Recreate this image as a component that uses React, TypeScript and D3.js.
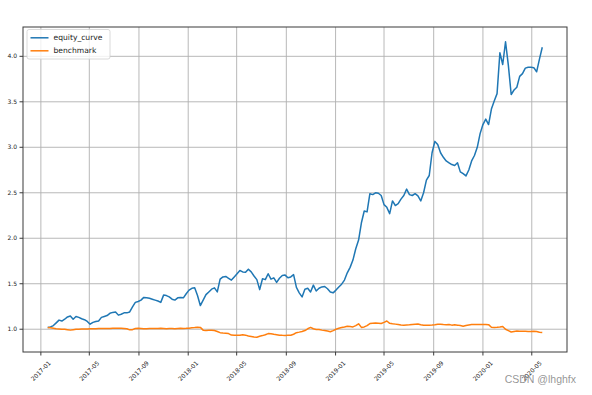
import * as React from 'react';
import * as d3 from 'd3';

// weekly closes, first week 2017-01-18
const startDate = new Date(2017, 0, 18);

const equityCurve = [
  1.02, 1.025, 1.04, 1.07, 1.10, 1.09, 1.11, 1.135, 1.145, 1.11,
  1.14, 1.13, 1.115, 1.105, 1.085, 1.055, 1.075, 1.085, 1.09, 1.13,
  1.14, 1.15, 1.175, 1.185, 1.19, 1.155, 1.165, 1.18, 1.18, 1.19,
  1.245, 1.295, 1.305, 1.32, 1.35, 1.345, 1.34, 1.33, 1.32, 1.31,
  1.295, 1.375, 1.37, 1.355, 1.33, 1.32, 1.345, 1.35, 1.345, 1.39,
  1.43, 1.45, 1.455, 1.37, 1.26, 1.32, 1.38, 1.41, 1.44, 1.455,
  1.41, 1.55, 1.575, 1.58, 1.56, 1.54, 1.575, 1.61, 1.645, 1.63,
  1.625, 1.66, 1.63, 1.585, 1.545, 1.435, 1.555, 1.545, 1.61, 1.55,
  1.565, 1.515, 1.56, 1.59, 1.595, 1.565, 1.575, 1.60, 1.46, 1.40,
  1.355, 1.44, 1.45, 1.41, 1.485, 1.42, 1.45, 1.465, 1.47, 1.445,
  1.41, 1.40, 1.43, 1.465, 1.495, 1.54, 1.62, 1.68, 1.76, 1.885,
  1.98, 2.17, 2.30, 2.29, 2.49, 2.48, 2.50, 2.495, 2.47, 2.37,
  2.34, 2.27, 2.41, 2.36, 2.38, 2.43, 2.47, 2.54, 2.48, 2.47,
  2.49, 2.465, 2.41, 2.50, 2.64, 2.69, 2.94, 3.065, 3.03, 2.94,
  2.89, 2.85, 2.83, 2.81, 2.80, 2.83, 2.73, 2.71, 2.685, 2.75,
  2.85, 2.91, 3.00, 3.15, 3.25, 3.31, 3.25, 3.42, 3.51, 3.59,
  4.04, 3.91, 4.16, 3.90, 3.58, 3.63, 3.66, 3.78, 3.81, 3.87,
  3.88, 3.88, 3.875, 3.83, 3.97, 4.10,
];

const benchmark = [
  1.02, 1.015, 1.01, 1.005, 1.003, 1.0, 1.0, 0.995, 0.99, 0.995,
  1.0, 1.0, 1.002, 1.003, 1.003, 1.004, 1.005, 1.006, 1.007, 1.007,
  1.008, 1.008, 1.009, 1.01, 1.01, 1.01, 1.01, 1.008, 1.005, 0.993,
  0.995, 1.008, 1.01, 1.008, 1.005, 1.006, 1.007, 1.008, 1.008, 1.007,
  1.01, 1.008, 1.006, 1.008, 1.007, 1.006, 1.008, 1.01, 1.009, 1.01,
  1.012, 1.015, 1.018, 1.022, 1.02, 0.99, 0.986, 0.988, 0.99, 0.986,
  0.975, 0.962, 0.958, 0.955, 0.952, 0.936, 0.934, 0.934, 0.934, 0.94,
  0.935, 0.925, 0.92, 0.914, 0.912, 0.922, 0.93, 0.94, 0.952, 0.95,
  0.944, 0.94, 0.935, 0.933, 0.932, 0.933, 0.934, 0.945, 0.962, 0.968,
  0.975, 0.985, 1.005, 1.02, 1.005, 0.997, 0.997, 0.99, 0.985, 0.98,
  0.973, 0.985, 1.0, 1.01, 1.018, 1.025, 1.033, 1.03, 1.025, 1.04,
  1.06, 1.02, 1.025, 1.04, 1.062, 1.065, 1.068, 1.066, 1.063, 1.075,
  1.09, 1.065, 1.06, 1.056, 1.052, 1.046, 1.044, 1.046, 1.048, 1.052,
  1.055, 1.058, 1.05, 1.044, 1.045, 1.045, 1.046, 1.05, 1.055, 1.055,
  1.052, 1.05, 1.052, 1.045, 1.048, 1.045, 1.04, 1.033, 1.04, 1.047,
  1.052, 1.052, 1.052, 1.052, 1.052, 1.052, 1.05, 1.022, 1.02, 1.022,
  1.025, 1.03, 1.0, 0.985, 0.97, 0.975, 0.98, 0.978, 0.978, 0.978,
  0.976, 0.976, 0.977, 0.976, 0.967, 0.964,
];

const yTicks = [1.0, 1.5, 2.0, 2.5, 3.0, 3.5, 4.0];
const xTickLabels = [
  '2017-01', '2017-05', '2017-09', '2018-01', '2018-05', '2018-09',
  '2019-01', '2019-05', '2019-09', '2020-01', '2020-05',
];

const dates = equityCurve.map((_, i) => d3.timeDay.offset(startDate, i * 7));

const W = 592;
const H = 395;
const margin = { left: 23, right: 25, top: 27, bottom: 43 };
const FONT = 'DejaVu Sans, sans-serif';

export default function App() {
  const ref = React.useRef<SVGSVGElement>(null);

  React.useEffect(() => {
    const svg = d3.select(ref.current);
    svg.selectAll('*').remove();

    const x0 = dates[0].getTime();
    const x1 = dates[dates.length - 1].getTime();
    const padX = (x1 - x0) * 0.05;
    const x = d3.scaleTime()
      .domain([new Date(x0 - padX), new Date(x1 + padX)])
      .range([margin.left, W - margin.right]);

    const allVals = equityCurve.concat(benchmark);
    const lo = d3.min(allVals) as number;
    const hi = d3.max(allVals) as number;
    const padY = (hi - lo) * 0.05;
    const y = d3.scaleLinear()
      .domain([lo - padY, hi + padY])
      .range([H - margin.bottom, margin.top]);

    const parse = d3.timeParse('%Y-%m');
    const xTicks = xTickLabels.map(s => parse(s) as Date);

    // grid
    const grid = svg.append('g');
    grid.selectAll('.vgrid')
      .data(xTicks)
      .enter()
      .append('line')
      .attr('x1', d => x(d)).attr('x2', d => x(d))
      .attr('y1', margin.top).attr('y2', H - margin.bottom)
      .attr('stroke', '#b0b0b0').attr('stroke-width', 0.9);
    grid.selectAll('.hgrid')
      .data(yTicks)
      .enter()
      .append('line')
      .attr('x1', margin.left).attr('x2', W - margin.right)
      .attr('y1', d => y(d)).attr('y2', d => y(d))
      .attr('stroke', '#b0b0b0').attr('stroke-width', 0.9);

    // lines
    const line = d3.line<number>()
      .x((_, i) => x(dates[i]))
      .y(d => y(d));

    svg.append('path')
      .datum(equityCurve)
      .attr('d', line)
      .attr('fill', 'none')
      .attr('stroke', '#1f77b4')
      .attr('stroke-width', 1.5)
      .attr('stroke-linejoin', 'round');

    svg.append('path')
      .datum(benchmark)
      .attr('d', line)
      .attr('fill', 'none')
      .attr('stroke', '#ff7f0e')
      .attr('stroke-width', 1.5)
      .attr('stroke-linejoin', 'round');

    // frame
    svg.append('rect')
      .attr('x', margin.left)
      .attr('y', margin.top)
      .attr('width', W - margin.left - margin.right)
      .attr('height', H - margin.top - margin.bottom)
      .attr('fill', 'none')
      .attr('stroke', '#3a3a3a')
      .attr('stroke-width', 1);

    // y axis
    const yAxis = svg.append('g');
    yAxis.selectAll('line')
      .data(yTicks)
      .enter()
      .append('line')
      .attr('x1', margin.left - 3.5).attr('x2', margin.left)
      .attr('y1', d => y(d)).attr('y2', d => y(d))
      .attr('stroke', '#3a3a3a');
    yAxis.selectAll('text')
      .data(yTicks)
      .enter()
      .append('text')
      .attr('x', margin.left - 6)
      .attr('y', d => y(d))
      .attr('dy', '0.35em')
      .attr('text-anchor', 'end')
      .attr('font-size', 6)
      .attr('font-family', FONT)
      .attr('fill', '#222')
      .text(d => d.toFixed(1));

    // x axis
    const base = H - margin.bottom;
    const xAxis = svg.append('g');
    xAxis.selectAll('line')
      .data(xTicks)
      .enter()
      .append('line')
      .attr('x1', d => x(d)).attr('x2', d => x(d))
      .attr('y1', base).attr('y2', base + 3.5)
      .attr('stroke', '#3a3a3a');
    xAxis.selectAll('text')
      .data(xTicks)
      .enter()
      .append('text')
      .attr('transform', d => `translate(${x(d)}, ${base + 19}) rotate(-45)`)
      .attr('text-anchor', 'middle')
      .attr('dy', '0.35em')
      .attr('font-size', 6)
      .attr('font-family', FONT)
      .attr('fill', '#222')
      .text((_, i) => xTickLabels[i]);

    // legend
    const lg = svg.append('g').attr('transform', `translate(${margin.left + 4}, ${margin.top + 2.5})`);
    lg.append('rect')
      .attr('width', 83).attr('height', 29.5)
      .attr('rx', 2)
      .attr('fill', 'white').attr('fill-opacity', 0.8)
      .attr('stroke', '#d0d0d0').attr('stroke-width', 0.8);
    const items = [
      { name: 'equity_curve', color: '#1f77b4' },
      { name: 'benchmark', color: '#ff7f0e' },
    ];
    items.forEach((it, i) => {
      const yy = 8.3 + i * 13;
      lg.append('line')
        .attr('x1', 3.5).attr('x2', 21.5)
        .attr('y1', yy).attr('y2', yy)
        .attr('stroke', it.color).attr('stroke-width', 1.5);
      lg.append('text')
        .attr('x', 26.5).attr('y', yy)
        .attr('dy', '0.35em')
        .attr('font-size', 7.6)
        .attr('font-family', FONT)
        .attr('fill', '#222')
        .text(it.name);
    });

    // watermark
    svg.append('text')
      .attr('x', 576).attr('y', 383)
      .attr('text-anchor', 'end')
      .attr('font-size', 10.5)
      .attr('font-family', 'Liberation Sans, Arial, sans-serif')
      .attr('fill', '#8a8a8a')
      .attr('fill-opacity', 0.9)
      .text('CSDN @lhghfx');
  }, []);

  return (
    <svg
      ref={ref}
      width={W}
      height={H}
      style={{ position: 'absolute', left: 0, top: 0, background: 'white' }}
    />
  );
}
